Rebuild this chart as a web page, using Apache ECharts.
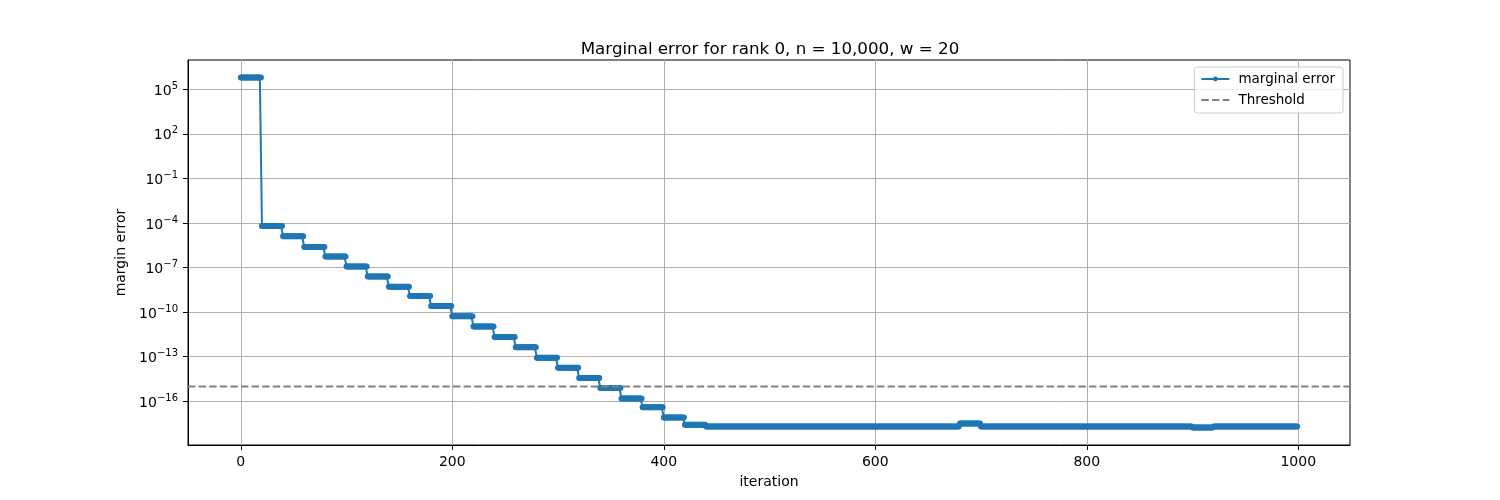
<!DOCTYPE html>
<html>
<head>
<meta charset="utf-8">
<script src="https://cdn.jsdelivr.net/npm/echarts@6/dist/echarts.min.js"></script>
<style>html,body{margin:0;padding:0;background:#fff}#chart{width:1500px;height:500px}</style>
</head>
<body>
<div id="chart"></div>
<script>
// Step levels (each held for STEP_LEN iterations)
const STEP_LEN = 20;
const stepLevels = [
  6.2e5, 6.3e-5, 1.3e-5, 2.4e-6, 5.5e-7, 1.2e-7, 2.5e-8, 5.2e-9, 1.2e-9, 2.6e-10,
  5.4e-11, 1.1e-11, 2.1e-12, 4.4e-13, 8.7e-14, 1.8e-14, 3.7e-15, 7.8e-16, 1.55e-16, 4.0e-17,
  8.3e-18, 2.6e-18, 2.05e-18, 2.05e-18, 2.05e-18, 2.05e-18, 2.05e-18, 2.05e-18, 2.05e-18, 2.05e-18,
  2.05e-18, 2.05e-18, 2.05e-18, 2.05e-18, 3.2e-18, 2.05e-18, 2.05e-18, 2.05e-18, 2.05e-18, 2.05e-18,
  2.05e-18, 2.05e-18, 2.05e-18, 2.05e-18, 2.05e-18, 1.75e-18, 2.05e-18, 2.05e-18, 2.05e-18, 2.05e-18
];
const threshold = 1e-15;
const xTicks = [0, 200, 400, 600, 800, 1000];
const yTicks = [1e5, 1e2, 1e-1, 1e-4, 1e-7, 1e-10, 1e-13, 1e-16];
const titleText = 'Marginal error for rank 0, n = 10,000, w = 20';
const X_MIN = -49.95, X_MAX = 1048.95;

const seriesData = [];
stepLevels.forEach((v, k) => {
  for (let j = 0; j < STEP_LEN; j++) seriesData.push([k * STEP_LEN + j, v]);
});
// horizontal threshold line spanning the whole x axis range
const thresholdData = [[X_MIN, threshold], [X_MAX, threshold]];

const FONT = 'DejaVu Sans';
const dashed = [7.4, 3.2];
const chart = echarts.init(document.getElementById('chart'), null, {renderer: 'canvas'});
chart.setOption({
  animation: false,
  backgroundColor: '#fff',
  textStyle: {fontFamily: FONT},
  title: {
    text: titleText, left: 765, top: 36, textAlign: 'center',
    textStyle: {fontFamily: FONT, fontSize: 16.7, fontWeight: 'normal', color: '#000'}
  },
  grid: {left: 188, right: 150, top: 60, bottom: 55, show: true, borderColor: '#000', borderWidth: 1, backgroundColor: 'transparent'},
  legend: {
    right: 157, top: 67, orient: 'vertical', align: 'left', z: 10,
    backgroundColor: 'rgba(255,255,255,0.8)', borderColor: '#cccccc', borderWidth: 1, borderRadius: 3,
    padding: [5, 8, 6, 6], itemGap: 7, itemWidth: 28, itemHeight: 6,
    textStyle: {fontFamily: FONT, fontSize: 13.5, color: '#000', padding: [0, 0, 0, 4]},
    data: [
      {name: 'marginal error'},
      {name: 'Threshold', itemStyle: {opacity: 0}}
    ]
  },
  xAxis: {
    type: 'value', min: X_MIN, max: X_MAX,
    name: 'iteration', nameLocation: 'middle', nameGap: 30,
    nameTextStyle: {fontFamily: FONT, fontSize: 14, color: '#000'},
    axisLine: {show: true, onZero: false, lineStyle: {color: '#000', width: 1}},
    axisTick: {show: true, customValues: xTicks, length: 5, lineStyle: {color: '#000'}},
    axisLabel: {customValues: xTicks, fontFamily: FONT, fontSize: 14, color: '#000', margin: 10,
      formatter: function (v) { return String(v); }},
    splitLine: {show: true, lineStyle: {color: '#b0b0b0', width: 1}}
  },
  yAxis: {
    type: 'log', logBase: 10, min: Math.pow(10, -18.94), max: Math.pow(10, 6.97),
    name: 'margin error', nameLocation: 'middle', nameGap: 48,
    nameTextStyle: {fontFamily: FONT, fontSize: 14, color: '#000'},
    axisLine: {show: true, onZero: false, lineStyle: {color: '#000', width: 1}},
    axisTick: {show: true, customValues: yTicks, length: 5, lineStyle: {color: '#000'}},
    axisLabel: {
      customValues: yTicks, margin: 10, color: '#000',
      formatter: function (v) {
        const e = Math.round(Math.log10(v));
        return '{b|10}{s|' + (e < 0 ? '\u2212' + (-e) : e) + '}';
      },
      rich: {
        b: {fontFamily: FONT, fontSize: 14, color: '#000', padding: [4, 0, 0, 0]},
        s: {fontFamily: FONT, fontSize: 10, color: '#000', padding: [0, 0, 6, 0]}
      }
    },
    splitLine: {show: true, lineStyle: {color: '#b0b0b0', width: 1}}
  },
  series: [
    {
      name: 'marginal error', type: 'line', data: seriesData,
      symbol: 'circle', symbolSize: 6, showSymbol: true, sampling: null,
      itemStyle: {color: '#1f77b4'}, lineStyle: {color: '#1f77b4', width: 2},
      emphasis: {disabled: true}, z: 3
    },
    {
      name: 'Threshold', type: 'line', data: thresholdData, symbol: 'none',
      itemStyle: {color: '#808080'}, emphasis: {disabled: true},
      lineStyle: {color: '#808080', width: 2, type: dashed}, z: 4
    }
  ]
});
</script>
</body>
</html>
